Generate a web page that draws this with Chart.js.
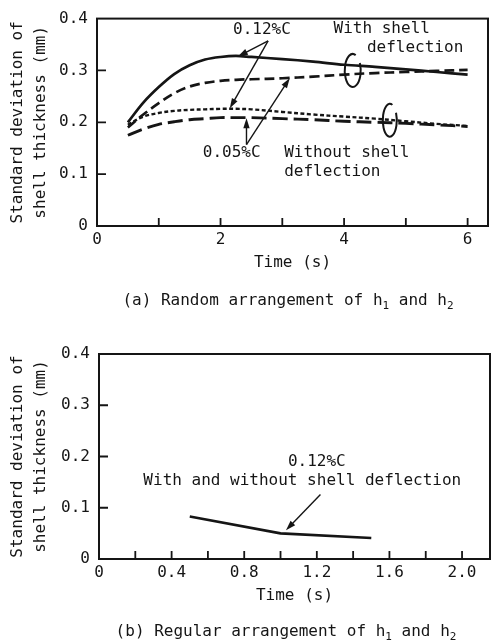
<!DOCTYPE html>
<html>
<head>
<meta charset="utf-8">
<script src="https://cdn.jsdelivr.net/npm/chart.js@4.4.1/dist/chart.umd.min.js"></script>
<style>
  html, body { margin: 0; padding: 0; background: #fff; }
  .panel { position: absolute; left: 0; width: 491px; }
</style>
</head>
<body>
<div class="panel" style="top:0;height:330px"><canvas id="chartA" width="491" height="330"></canvas></div>
<div class="panel" style="top:330px;height:314px"><canvas id="chartB" width="491" height="314"></canvas></div>
<script>
// (a) random arrangement of h1 and h2
const timeA = [0.5, 0.75, 1.0, 1.25, 1.5, 1.75, 2.0, 2.25, 2.5, 3.0, 3.5, 4.0, 4.5, 5.0, 5.5, 6.0];
const c012With = [0.200, 0.238, 0.268, 0.293, 0.310, 0.321, 0.326, 0.328, 0.326, 0.322, 0.317, 0.311, 0.307, 0.302, 0.297, 0.292];
const c005With = [0.190, 0.215, 0.237, 0.256, 0.269, 0.276, 0.280, 0.282, 0.283, 0.285, 0.288, 0.292, 0.295, 0.297, 0.299, 0.301];
const c012Without = [0.195, 0.211, 0.218, 0.222, 0.224, 0.225, 0.226, 0.226, 0.225, 0.220, 0.215, 0.211, 0.207, 0.202, 0.197, 0.193];
const c005Without = [0.175, 0.187, 0.196, 0.201, 0.205, 0.207, 0.209, 0.209, 0.209, 0.207, 0.205, 0.202, 0.200, 0.198, 0.195, 0.192];

// (b) regular arrangement of h1 and h2
const timeB = [0.5, 1.0, 1.5];
const c012Regular = [0.083, 0.050, 0.041];

const yTicks = ["0", "0.1", "0.2", "0.3", "0.4"];
const xTicksA = ["0", "2", "4", "6"];
const xTicksB = ["0", "0.4", "0.8", "1.2", "1.6", "2.0"];

const INK = "#151515";
const MONO = "'DejaVu Sans Mono', 'Liberation Mono', monospace";

Chart.defaults.font.family = MONO;
Chart.defaults.font.size = 16;
Chart.defaults.color = INK;

const pts = (xs, ys) => xs.map((x, i) => ({ x: x, y: ys[i] }));

function arrow(ctx, x0, y0, x1, y1) {
  const a = Math.atan2(y1 - y0, x1 - x0);
  const len = 10, half = 3.2;
  ctx.beginPath();
  ctx.moveTo(x0, y0);
  ctx.lineTo(x1 - Math.cos(a) * len * 0.8, y1 - Math.sin(a) * len * 0.8);
  ctx.stroke();
  ctx.beginPath();
  ctx.moveTo(x1, y1);
  ctx.lineTo(x1 - Math.cos(a) * len - Math.sin(a) * half, y1 - Math.sin(a) * len + Math.cos(a) * half);
  ctx.lineTo(x1 - Math.cos(a) * len + Math.sin(a) * half, y1 - Math.sin(a) * len - Math.cos(a) * half);
  ctx.closePath();
  ctx.fill();
}

// frame, inward tick marks, notes, arrows, brackets and caption
const figureDecor = {
  id: "figureDecor",
  afterDraw(chart, args, opts) {
    const { ctx, chartArea: ca } = chart;
    const xs = chart.scales.x, ys = chart.scales.y;
    const px = v => xs.getPixelForValue(v), py = v => ys.getPixelForValue(v);
    ctx.save();
    ctx.strokeStyle = INK;
    ctx.fillStyle = INK;

    ctx.lineWidth = 2;
    ctx.strokeRect(ca.left, ca.top, ca.right - ca.left, ca.bottom - ca.top);

    ctx.lineWidth = 1.8;
    ctx.beginPath();
    xs.ticks.forEach(t => {
      const x = px(t.value);
      if (x <= ca.left + 1) return;
      ctx.moveTo(x, ca.bottom);
      ctx.lineTo(x, ca.bottom - 8);
    });
    ys.ticks.forEach(t => {
      const y = py(t.value);
      if (y >= ca.bottom - 1 || y <= ca.top + 1) return;
      ctx.moveTo(ca.left, y);
      ctx.lineTo(ca.left + 9, y);
    });
    ctx.stroke();

    ctx.font = "16px " + MONO;
    ctx.textBaseline = "middle";
    (opts.notes || []).forEach(n => {
      ctx.textAlign = n.align || "center";
      ctx.fillText(n.text, px(n.x), py(n.y));
    });

    ctx.lineWidth = 1.4;
    (opts.arrows || []).forEach(a => {
      arrow(ctx, px(a.from[0]), py(a.from[1]), px(a.to[0]), py(a.to[1]));
    });

    // loop brackets, open at the upper right
    ctx.lineWidth = 2;
    (opts.loops || []).forEach(l => {
      ctx.beginPath();
      ctx.ellipse(px(l.x), py(l.y), l.rx, l.ry, 0, -0.15 * Math.PI, 1.62 * Math.PI, false);
      ctx.stroke();
    });

    if (opts.caption) {
      const c = opts.caption;
      const big = "16px " + MONO, small = "11px " + MONO;
      let total = 0;
      c.parts.forEach(p => { ctx.font = p.sub ? small : big; total += ctx.measureText(p.text).width; });
      let x = c.cx - total / 2;
      ctx.textAlign = "left";
      c.parts.forEach(p => {
        ctx.font = p.sub ? small : big;
        ctx.fillText(p.text, x, c.y + (p.sub ? 5 : 0));
        x += ctx.measureText(p.text).width;
      });
    }
    ctx.restore();
  }
};

function axes(xMax, xStep, xLabel, yWidth) {
  return {
    x: {
      type: "linear", min: 0, max: xMax,
      grid: { display: false, drawTicks: false },
      border: { display: false },
      ticks: {
        stepSize: xStep, includeBounds: false, autoSkip: false, maxRotation: 0, padding: 4,
        font: { size: 16 },
        callback: xLabel
      },
      title: { display: true, text: "Time (s)", font: { size: 16 }, padding: { top: 0, bottom: 8 } },
      afterFit: s => { s.height = 54; }
    },
    y: {
      type: "linear", min: 0, max: 0.4,
      grid: { display: false, drawTicks: false },
      border: { display: false },
      ticks: {
        stepSize: 0.1, padding: 9, font: { size: 16 },
        callback: v => yTicks[Math.round(v * 10)]
      },
      title: {
        display: true, text: ["Standard deviation of", "shell thickness (mm)"],
        font: { size: 16, lineHeight: 1.4 }, padding: { top: 7, bottom: 0 }
      },
      afterFit: s => { s.width = yWidth; }
    }
  };
}

new Chart(document.getElementById("chartA"), {
  type: "line",
  data: {
    datasets: [
      { label: "0.12%C with shell deflection", data: pts(timeA, c012With), borderWidth: 2.7, borderDash: [] },
      { label: "0.05%C with shell deflection", data: pts(timeA, c005With), borderWidth: 2.7, borderDash: [10, 5] },
      { label: "0.12%C without shell deflection", data: pts(timeA, c012Without), borderWidth: 2.4, borderDash: [4, 2.5] },
      { label: "0.05%C without shell deflection", data: pts(timeA, c005Without), borderWidth: 2.9, borderDash: [15, 6] }
    ].map(d => Object.assign(d, { borderColor: INK, pointRadius: 0, tension: 0.35, fill: false }))
  },
  options: {
    responsive: false, animation: false, devicePixelRatio: 1,
    layout: { padding: { top: 18, right: 3, left: 0, bottom: 50 } },
    scales: axes(6.33, 1, v => (Number.isInteger(v) && v % 2 === 0) ? xTicksA[v / 2] : "", 97),
    plugins: {
      legend: { display: false }, tooltip: { enabled: false },
      figureDecor: {
        notes: [
          { text: "0.12%C", x: 2.67, y: 0.378 },
          { text: "With shell", x: 3.83, y: 0.380, align: "left" },
          { text: "deflection", x: 4.37, y: 0.343, align: "left" },
          { text: "0.05%C", x: 2.18, y: 0.142 },
          { text: "Without shell", x: 3.03, y: 0.142, align: "left" },
          { text: "deflection", x: 3.03, y: 0.104, align: "left" }
        ],
        arrows: [
          { from: [2.77, 0.357], to: [2.28, 0.327] },
          { from: [2.77, 0.357], to: [2.15, 0.227] },
          { from: [2.42, 0.157], to: [2.42, 0.208] },
          { from: [2.42, 0.157], to: [3.12, 0.285] }
        ],
        loops: [
          { x: 4.14, y: 0.300, rx: 8, ry: 16.5 },
          { x: 4.74, y: 0.204, rx: 7, ry: 16.5 }
        ],
        caption: {
          cx: 288, y: 301,
          parts: [
            { text: "(a) Random arrangement of h" }, { text: "1", sub: true },
            { text: " and h" }, { text: "2", sub: true }
          ]
        }
      }
    }
  },
  plugins: [figureDecor]
});

new Chart(document.getElementById("chartB"), {
  type: "line",
  data: {
    datasets: [
      { label: "0.12%C with and without shell deflection", data: pts(timeB, c012Regular),
        borderColor: INK, borderWidth: 2.7, pointRadius: 0, tension: 0, fill: false }
    ]
  },
  options: {
    responsive: false, animation: false, devicePixelRatio: 1,
    layout: { padding: { top: 24, right: 1, left: 0, bottom: 31 } },
    scales: axes(2.154, 0.2, v => {
      const k = Math.round(v * 10);
      return k % 4 === 0 ? xTicksB[k / 4] : "";
    }, 99),
    plugins: {
      legend: { display: false }, tooltip: { enabled: false },
      figureDecor: {
        notes: [
          { text: "0.12%C", x: 1.20, y: 0.189 },
          { text: "With and without shell deflection", x: 1.12, y: 0.153 }
        ],
        arrows: [
          { from: [1.22, 0.126], to: [1.03, 0.056] }
        ],
        caption: {
          cx: 286, y: 302,
          parts: [
            { text: "(b) Regular arrangement of h" }, { text: "1", sub: true },
            { text: " and h" }, { text: "2", sub: true }
          ]
        }
      }
    }
  },
  plugins: [figureDecor]
});
</script>
</body>
</html>
